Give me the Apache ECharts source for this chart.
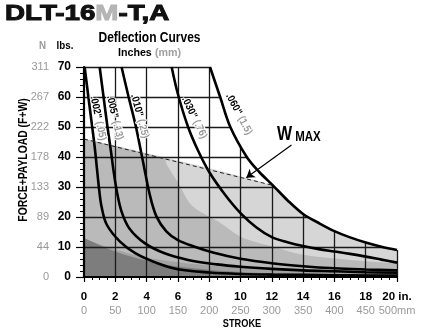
<!DOCTYPE html>
<html>
<head>
<meta charset="utf-8">
<style>
  html, body { margin: 0; padding: 0; background: #fff; }
  #chart { width: 425px; height: 336px; }
</style>
<script src="https://cdn.jsdelivr.net/npm/echarts@6/dist/echarts.min.js"></script>
</head>
<body>
<div id="chart"></div>
<script>
// no narrow font installed: Liberation Sans, squeezed with scaleX where we can
const FONT = '"Liberation Sans", Arial, sans-serif'

// axis labels
const xInch = ['0', '2', '4', '6', '8', '10', '12', '14', '16', '18', '20 in.']
const xMm   = ['0', '50', '100', '150', '200', '250', '300', '350', '400', '450', '500mm']
const yN    = ['0', '44', '89', '133', '178', '222', '267', '311']

// deflection curves  [stroke in., force lbs]
const c002 = [[0.04,70],[0.28,60],[0.5,51],[0.68,43.5],[0.83,36],[0.96,29.5],[1.12,23.5],[1.45,17.5],[2.3,11.8],[3.3,7.9],[4.7,4.6],[6,2.6],[8,1.5],[10,1.0],[12,0.8],[14,0.7],[16,0.6],[18,0.5],[20,0.45]]
const c005 = [[1.0,70],[1.25,60],[1.5,50],[1.72,42],[1.9,35],[2.1,28.5],[2.4,21.8],[2.9,16.2],[3.9,11.2],[5.15,7.9],[6.65,5.7],[8.5,4.2],[10,3.4],[12,2.7],[14,2.2],[16,1.9],[18,1.6],[20,1.4]]
const c010 = [[2.4,70],[2.85,60],[3.3,50.5],[3.75,39],[4.2,27.5],[4.62,20.3],[5.26,15.2],[6,12.3],[7.07,10.1],[8.3,8.1],[10,6.1],[12,4.6],[14,3.6],[16,2.9],[18,2.5],[20,2.2]]
const c030 = [[5.6,70],[6.0,61],[6.65,50],[7.3,42],[8,35],[9,27.5],[10,21.3],[11,16.6],[12,13.3],[13,11.6],[14,10.3],[15,9.3],[16,8.5],[17,7.7],[18,6.8],[19,5.8],[20,4.8]]
const c060 = [[8.05,70],[8.7,60],[9.35,50],[10.4,40],[11.2,35],[12.1,30.4],[13,25.6],[14,21],[15,18],[16,15.3],[17,13.2],[18,11.5],[19,10.1],[20,9]]

// W max line and shaded zones
const wMaxLine = [[0,46],[12.1,30.5]]
const midEdge  = [[0,46],[5.1,39.5],[5.3,37.3],[5.7,34],[6.1,30.7],[6.7,25],[7.2,22.5],[7.8,20.7],[8.6,18.4],[9.3,15.8],[10,13.4],[11,11.6],[12.1,10.1],[14,7.4],[17,5.7],[20,4.6]]
const bandEdge = [[0,13],[1,10.9],[2,9.2],[3,7.7],[4,6.5],[6,4.9],[8,3.9],[10,3.3],[14,2.6],[20,2.1]]
const darkEdge = [[0,13],[1,10.6],[2,8.5],[3,6.8],[4,5.4],[5,4.3],[6,3.5],[8,2.4],[10,1.7],[12,1.3],[14,1.1],[17,0.9],[20,0.7]]

const curveNames = [
  { inch: '.002"', mm: '(.05)', data: c002 },
  { inch: '.005"', mm: '(.13)', data: c005 },
  { inch: '.010"', mm: '(.25)', data: c010 },
  { inch: '.030"', mm: '(.76)', data: c030 },
  { inch: '.060"', mm: '(1.5)', data: c060 },
]
// label anchor (data coords) and slope angle of each curve label
const labelPos = [
  { at: [0.9, 52.9],  angle: 78 },
  { at: [1.97, 53.1], angle: 77 },
  { at: [3.56, 53.6], angle: 75 },
  { at: [7.05, 53.1], angle: 64 },
  { at: [9.9, 54.3],  angle: 62 },
]
const arrowFrom = [13.26, 44]
const arrowTo   = [10.37, 33.1]
const wLabelAt  = [12.33, 47.3]

const chart = echarts.init(document.getElementById('chart'))

function area(data, color) {
  return {
    type: 'line', data, smooth: 0.35, symbol: 'none', z: 2, silent: true,
    lineStyle: { width: 0 },
    areaStyle: { color, opacity: 1 },
  }
}

// grid lines, clipped by the .060" curve with a white cover
const gridLines = []
for (let x = 2; x < 20; x += 2) gridLines.push([{ coord: [x, 0] }, { coord: [x, 70] }])
gridLines.push([{ coord: [20, 0] }, { coord: [20, c060[c060.length - 1][1]] }])
for (let y = 10; y < 70; y += 10) gridLines.push([{ coord: [0, y] }, { coord: [20, y] }])
gridLines.push([{ coord: [0, 70] }, { coord: [c060[0][0], 70] }])

const series = [
  area(wMaxLine.concat(c060.filter(p => p[0] > wMaxLine[1][0])), '#d6d6d6'),
  area(midEdge, '#bababa'),
  area(bandEdge, '#a3a3a3'),
  area(darkEdge, '#7d7d7d'),
  {
    type: 'line', data: [[0, 0]], symbol: 'none', z: 3, silent: true,
    lineStyle: { width: 0 },
    markLine: {
      z: 3, silent: true, symbol: 'none', animation: false,
      label: { show: false },
      lineStyle: { color: '#1a1a1a', width: 1.3, type: 'solid' },
      emphasis: { disabled: true },
      data: gridLines,
    },
  },
  {
    type: 'line', data: c060, smooth: 0.35, symbol: 'none', z: 4, silent: true,
    lineStyle: { width: 0 },
    areaStyle: { color: '#fff', opacity: 1, origin: 'end' },
  },
]
curveNames.forEach(c => series.push({
  type: 'line', data: c.data, smooth: 0.35, symbol: 'none', z: 5, silent: true,
  lineStyle: { color: '#000', width: 2.6 },
}))
series.push({
  type: 'line', data: wMaxLine, symbol: 'none', z: 5, silent: true,
  lineStyle: { color: '#222', width: 1, type: [4, 3] },
  markLine: {
    z: 8, silent: true, symbol: ['none', 'arrow'], symbolSize: 8, animation: false,
    label: { show: false },
    lineStyle: { color: '#000', width: 1.2, type: 'solid' },
    data: [[{ coord: arrowFrom }, { coord: arrowTo }]],
  },
})

chart.setOption({
  animation: false,
  grid: { left: 84, right: 28, top: 67, bottom: 59, outerBoundsMode: 'none' },
  xAxis: {
    type: 'value', min: 0, max: 20, interval: 2, z: 6,
    axisLine: { lineStyle: { color: '#000', width: 2.2 } },
    axisTick: { length: 5, lineStyle: { color: '#000', width: 1.2 } },
    minorTick: { show: true, splitNumber: 4, length: 3, lineStyle: { color: '#000', width: 1 } },
    splitLine: { show: false },
    axisLabel: {
      margin: 12,
      formatter: v => `{a|${xInch[Math.round(v / 2)]}}\n{b|${xMm[Math.round(v / 2)]}}`,
      rich: {
        a: { fontFamily: FONT, fontSize: 11.5, fontWeight: 'bold', color: '#000', lineHeight: 15 },
        b: { fontFamily: FONT, fontSize: 11, color: '#9a9a9a', lineHeight: 14 },
      },
    },
  },
  yAxis: {
    type: 'value', min: 0, max: 70, interval: 10, z: 6,
    axisLine: { show: true, lineStyle: { color: '#000', width: 2.2 } },
    axisTick: { show: true, length: 8, lineStyle: { color: '#000', width: 1.2 } },
    minorTick: { show: true, splitNumber: 5, length: 4, lineStyle: { color: '#000', width: 1 } },
    splitLine: { show: false },
    axisLabel: {
      margin: 13,
      formatter: v => `{n|${yN[Math.round(v / 10)]}}{l|${v}}`,
      rich: {
        n: { fontFamily: FONT, fontSize: 11, color: '#9a9a9a', width: 24, align: 'right' },
        l: { fontFamily: FONT, fontSize: 12, fontWeight: 'bold', color: '#000', width: 22, align: 'right' },
      },
    },
  },
  series,
})

// texts around the plot
function txt(x, y, text, size, sx, extra) {
  return Object.assign({
    type: 'text', x, y, scaleX: sx, z: 10,
    style: { text, fontFamily: FONT, fontSize: size, fontWeight: 'bold', fill: '#000', align: 'center', verticalAlign: 'middle' },
  }, extra || {})
}

const graphic = [
  {
    type: 'text', x: 5, y: 14, scaleX: 1.26, z: 10,
    style: {
      text: '{k|DLT-16}{g|M}{k|-T,A}', verticalAlign: 'middle',
      rich: {
        k: { fontFamily: FONT, fontSize: 22, fontWeight: 'bold', fill: '#111', stroke: '#111', lineWidth: 1 },
        g: { fontFamily: FONT, fontSize: 22, fontWeight: 'bold', fill: '#b5b5b5', stroke: '#b5b5b5', lineWidth: 1 },
      },
    },
  },
  txt(149.5, 38, 'Deflection Curves', 15, 0.8),
  {
    type: 'text', x: 149.5, y: 52.5, scaleX: 0.93, z: 10,
    style: {
      text: '{a|Inches} {b|(mm)}', align: 'center', verticalAlign: 'middle',
      rich: {
        a: { fontFamily: FONT, fontSize: 11.5, fontWeight: 'bold', fill: '#000' },
        b: { fontFamily: FONT, fontSize: 11.5, fontWeight: 'bold', fill: '#a0a0a0' },
      },
    },
  },
  txt(42.5, 46, 'N', 11.5, 0.85, { style: { text: 'N', fontFamily: FONT, fontSize: 11.5, fontWeight: 'bold', fill: '#9a9a9a', align: 'center', verticalAlign: 'middle' } }),
  txt(65, 46, 'lbs.', 11.5, 0.85),
  txt(24, 160, 'FORCE+PAYLOAD (F+W)', 12.5, 0.83, { rotation: Math.PI / 2 }),
  txt(242, 324, 'STROKE', 11.5, 0.8),
]

curveNames.forEach((c, i) => {
  const p = chart.convertToPixel({ gridIndex: 0 }, labelPos[i].at)
  graphic.push({
    type: 'text', x: p[0], y: p[1], rotation: -labelPos[i].angle * Math.PI / 180, scaleX: 0.9, z: 10,
    style: {
      text: `{a|${c.inch}} {b|${c.mm}}`, align: 'center', verticalAlign: 'middle',
      rich: {
        a: { fontFamily: FONT, fontSize: 10.5, fontWeight: 'bold', fill: '#000', stroke: '#fff', lineWidth: 2 },
        b: { fontFamily: FONT, fontSize: 10.5, fontWeight: 'bold', fill: '#9a9a9a', stroke: '#fff', lineWidth: 2 },
      },
    },
  })
})

const wp = chart.convertToPixel({ gridIndex: 0 }, wLabelAt)
graphic.push({
  type: 'text', x: wp[0], y: wp[1], scaleX: 0.82, z: 10,
  style: {
    text: '{w|W}{m| MAX}', verticalAlign: 'middle',
    rich: {
      w: { fontFamily: FONT, fontSize: 19.5, fontWeight: 'bold', fill: '#000' },
      m: { fontFamily: FONT, fontSize: 14, fontWeight: 'bold', fill: '#000', padding: [4, 0, 0, 0] },
    },
  },
})

chart.setOption({ graphic })
</script>
</body>
</html>
